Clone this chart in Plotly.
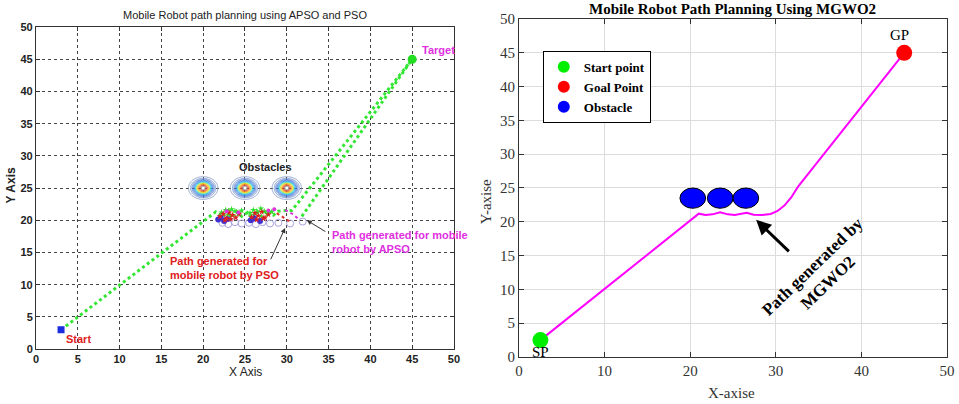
import numpy as np
import plotly.graph_objects as go

# ---------------- data: left chart (APSO / PSO) ----------------
start_L = (3, 3)
target_L = (45, 45)
obst_L_x = [20, 25, 30]
obst_L_y = [25, 25, 25]

path1_x = [3, 21.5, 22.3, 23.0, 23.4, 24.0, 24.6, 25.3, 25.8, 26.4, 27.0, 27.6, 28.4, 29.0, 29.8, 30.6, 45]
path1_y = [3, 21.3, 20.5, 21.5, 20.3, 21.4, 20.6, 21.2, 20.4, 21.5, 20.6, 21.6, 20.8, 21.4, 21.5, 21.5, 45]
path2_x = [31.8, 45]
path2_y = [20.6, 45]

pso_x = [28.8, 29.3, 29.8, 30.3, 30.6]
pso_y = [21.1, 20.7, 20.3, 19.9, 19.6]
apso_x = [29.8, 30.3, 30.8, 31.3, 28.5, 22.8, 24.2, 27.8]
apso_y = [21.6, 21.3, 20.9, 20.3, 21.7, 21.4, 21.2, 21.5]

red_x = [22.0, 22.4, 22.8, 23.1, 23.5, 23.9, 24.3, 25.8, 26.2, 26.6, 27.0, 27.4, 27.8, 22.6, 23.3, 26.4, 27.2]
red_y = [20.6, 21.0, 20.3, 21.2, 20.8, 20.4, 21.0, 20.5, 21.1, 20.7, 21.3, 20.4, 20.9, 20.0, 20.2, 20.1, 20.3]
grn_x = [22.2, 22.7, 23.0, 23.4, 23.8, 24.2, 24.6, 25.6, 26.0, 26.5, 26.9, 27.3, 27.7, 28.2]
grn_y = [21.2, 21.6, 20.9, 21.7, 21.4, 21.0, 21.5, 21.1, 21.6, 21.2, 21.8, 21.4, 21.0, 21.3]
blu_x = [21.8, 22.1, 22.5, 22.9, 25.7, 26.1, 26.8]
blu_y = [20.1, 20.4, 19.9, 20.2, 20.0, 20.3, 19.9]
circ_x = [22.3, 23.0, 23.8, 24.6, 25.5, 26.3, 27.1, 28.0, 29.0, 30.4, 31.9]
circ_y = [19.6, 19.4, 19.7, 19.5, 19.6, 19.4, 19.7, 19.5, 19.6, 19.5, 19.8]

# ---------------- data: right chart (MGWO2) ----------------
start_R = (2.5, 2.5)
goal_R = (45, 45)
obst_R_x = [20.3, 23.5, 26.5]
obst_R_y = [23.5, 23.5, 23.5]
obst_R_r = 1.5
mg_x = [2.5, 21.0, 21.8, 22.6, 23.5, 24.4, 25.2, 26.0, 26.6, 27.4, 28.4, 29.4, 30.2, 31.0, 31.8, 32.6, 45.0]
mg_y = [2.5, 21.2, 21.0, 21.1, 21.4, 21.1, 21.0, 21.2, 21.35, 21.05, 21.0, 21.15, 21.6, 22.4, 23.6, 25.2, 45.0]

ticks_L = list(range(0, 51, 5))
ticks_Rx = list(range(0, 51, 10))
ticks_Ry = list(range(0, 51, 5))

fig = go.Figure()

# ---- left: obstacle contours
gx = np.linspace(17, 33, 321)
gy = np.linspace(22.5, 27.5, 121)
GX, GY = np.meshgrid(gx, gy)
Z = np.zeros_like(GX)
for cx, cy in zip(obst_L_x, obst_L_y):
    Z = np.maximum(Z, np.exp(-((GX - cx) ** 2 + (GY - cy) ** 2) / 1.1))
fig.add_trace(go.Contour(
    x=gx, y=gy, z=Z, xaxis="x", yaxis="y", showscale=False, hoverinfo="skip",
    contours=dict(start=0.06, end=0.95, size=0.07, coloring="lines"),
    line=dict(width=1),
    colorscale=[[0, "#8aa0c8"], [0.3, "#4070e0"], [0.5, "#20d8f0"], [0.65, "#e8f020"],
                [0.8, "#ffa020"], [1, "#e02020"]],
    showlegend=False))
fig.add_trace(go.Scatter(x=obst_L_x, y=obst_L_y, mode="markers", xaxis="x", yaxis="y",
                         marker=dict(size=4, color="white", line=dict(color="#999", width=1)),
                         showlegend=False, hoverinfo="skip"))

# ---- left: paths
fig.add_trace(go.Scatter(x=path1_x, y=path1_y, mode="lines", xaxis="x", yaxis="y",
                         line=dict(color="#33e633", width=3, dash="dot"), showlegend=False))
fig.add_trace(go.Scatter(x=path2_x, y=path2_y, mode="lines", xaxis="x", yaxis="y",
                         line=dict(color="#33e633", width=3, dash="dot"), showlegend=False))
fig.add_trace(go.Scatter(x=circ_x, y=circ_y, mode="markers", xaxis="x", yaxis="y",
                         marker=dict(size=7, color="rgba(0,0,0,0)", line=dict(color="#a9a0e0", width=1)),
                         showlegend=False))
fig.add_trace(go.Scatter(x=blu_x, y=blu_y, mode="markers", xaxis="x", yaxis="y",
                         marker=dict(size=6, color="#4030d0"), showlegend=False))
fig.add_trace(go.Scatter(x=grn_x, y=grn_y, mode="markers", xaxis="x", yaxis="y",
                         marker=dict(size=5, color="#30e030", symbol="star"), showlegend=False))
fig.add_trace(go.Scatter(x=red_x, y=red_y, mode="markers", xaxis="x", yaxis="y",
                         marker=dict(size=5, color="#e02020", symbol="star"), showlegend=False))
fig.add_trace(go.Scatter(x=pso_x, y=pso_y, mode="lines", xaxis="x", yaxis="y",
                         line=dict(color="#e03030", width=2, dash="dot"), showlegend=False))
fig.add_trace(go.Scatter(x=apso_x[:4], y=apso_y[:4], mode="lines", xaxis="x", yaxis="y",
                         line=dict(color="#e030e0", width=2, dash="dot"), showlegend=False))
fig.add_trace(go.Scatter(x=apso_x[4:], y=apso_y[4:], mode="markers", xaxis="x", yaxis="y",
                         marker=dict(size=4, color="#e030e0"), showlegend=False))
fig.add_trace(go.Scatter(x=[start_L[0]], y=[start_L[1]], mode="markers", xaxis="x", yaxis="y",
                         marker=dict(size=7, color="#1a2ee0", symbol="square"), showlegend=False))
fig.add_trace(go.Scatter(x=[target_L[0]], y=[target_L[1]], mode="markers", xaxis="x", yaxis="y",
                         marker=dict(size=9, color="#22dd22"), showlegend=False))

# ---- right
fig.add_trace(go.Scatter(x=mg_x, y=mg_y, mode="lines", xaxis="x2", yaxis="y2",
                         line=dict(color="#ff00ff", width=2), showlegend=False))
fig.add_trace(go.Scatter(x=[start_R[0]], y=[start_R[1]], mode="markers", xaxis="x2", yaxis="y2",
                         name="Start point", marker=dict(size=16, color="#00ee00")))
fig.add_trace(go.Scatter(x=[goal_R[0]], y=[goal_R[1]], mode="markers", xaxis="x2", yaxis="y2",
                         name="Goal Point", marker=dict(size=16, color="#ff0000")))
fig.add_trace(go.Scatter(x=obst_R_x, y=obst_R_y, mode="markers", xaxis="x2", yaxis="y2",
                         name="Obstacle", marker=dict(size=16, color="#0000ff")))

shapes = []
for cx, cy in zip(obst_R_x, obst_R_y):
    shapes.append(dict(type="circle", xref="x2", yref="y2", x0=cx - obst_R_r, x1=cx + obst_R_r,
                       y0=cy - obst_R_r, y1=cy + obst_R_r, fillcolor="#0000ff",
                       line=dict(color="black", width=1), layer="above"))

ann = []
LF = dict(family="Liberation Sans, Arial", size=11)
MID = dict(xanchor="center", yanchor="middle", showarrow=False)
ann.append(dict(MID, x=0.2555, y=0.963, xref="paper", yref="paper", text="Mobile Robot path planning using APSO and PSO",
                font=dict(LF, color="#222")))
ann.append(dict(MID, x=0.2555, y=0.078, xref="paper", yref="paper", text="X Axis",
                font=dict(LF, size=12, color="#222")))
ann.append(dict(MID, x=0.011, y=0.54, xref="paper", yref="paper", text="Y Axis", textangle=-90,
                font=dict(LF, size=12, color="#222", weight="bold")))
ann.append(dict(x=27.5, y=28.2, xref="x", yref="y", text="Obstacles", showarrow=False,
                font=dict(LF, size=11, color="#222", weight="bold")))
ann.append(dict(x=3.4, y=1.5, xref="x", yref="y", text="Start", showarrow=False, xanchor="left",
                font=dict(LF, size=11, color="#e02020", weight="bold")))
ann.append(dict(x=45.9, y=46.4, xref="x", yref="y", text="Target", showarrow=False, xanchor="left",
                font=dict(LF, size=11, color="#e030e0", weight="bold")))
ann.append(dict(x=15.8, y=12.6, xref="x", yref="y", text="Path generated for<br>mobile robot by PSO",
                showarrow=False, xanchor="left", align="left",
                font=dict(LF, size=11, color="#e02020", weight="bold")))
ann.append(dict(x=35.2, y=16.6, xref="x", yref="y", text="Path generated for mobile<br>robot by APSO",
                showarrow=False, xanchor="left", align="left",
                font=dict(LF, size=11, color="#e030e0", weight="bold")))
ann.append(dict(x=29.8, y=18.8, ax=28.0, ay=13.7, xref="x", yref="y", axref="x", ayref="y", text="",
                showarrow=True, arrowhead=2, arrowwidth=1, arrowcolor="#333"))
ann.append(dict(x=32.4, y=20.0, ax=34.8, ay=18.1, xref="x", yref="y", axref="x", ayref="y", text="",
                showarrow=True, arrowhead=2, arrowwidth=1, arrowcolor="#333"))

TF = dict(family="Liberation Serif, Times New Roman", size=15, color="#333")
ann.append(dict(MID, x=0.764, y=0.978, xref="paper", yref="paper", text="<b>Mobile Robot Path Planning Using MGWO2</b>",
                font=dict(family="Liberation Serif", size=15, color="black")))
ann.append(dict(MID, x=0.763, y=0.028, xref="paper", yref="paper", text="X-axise", font=TF))
ann.append(dict(MID, x=0.507, y=0.5, xref="paper", yref="paper", text="Y-axise", textangle=-90, font=TF))
ann.append(dict(x=44.5, y=47.6, xref="x2", yref="y2", text="GP", showarrow=False,
                font=dict(family="Liberation Serif", size=15, color="black")))
ann.append(dict(x=2.5, y=0.8, xref="x2", yref="y2", text="SP", showarrow=False,
                font=dict(family="Liberation Serif", size=15, color="black")))
ann.append(dict(x=27.7, y=20.3, ax=31.7, ay=15.4, xref="x2", yref="y2", axref="x2", ayref="y2", text="",
                showarrow=True, arrowhead=2, arrowsize=1, arrowwidth=3, arrowcolor="black"))
ann.append(dict(x=35.2, y=12.2, xref="x2", yref="y2", text="<b>Path generated by<br>MGWO2</b>",
                showarrow=False, textangle=-44,
                font=dict(family="Liberation Serif", size=17, color="black")))

axL = dict(range=[0, 50], tickvals=ticks_L, showgrid=True, gridcolor="#444", griddash="dot", gridwidth=1,
           showline=True, linecolor="#333", linewidth=1, mirror="ticks", ticks="inside", ticklen=4,
           tickcolor="#333", zeroline=False, tickfont=dict(LF, color="#222", weight="bold"),
           fixedrange=True, automargin=False)
axRx = dict(range=[0, 50], tickvals=ticks_Rx, showgrid=True, gridcolor="#dcdcdc", gridwidth=1,
            showline=True, linecolor="#333", linewidth=1, mirror="ticks", ticks="inside", ticklen=5,
            tickcolor="#333", zeroline=False, tickfont=TF, automargin=False)
axRy = dict(axRx, tickvals=ticks_Ry)

fig.update_layout(
    width=959, height=404, margin=dict(l=0, r=0, t=0, b=0, autoexpand=False),
    paper_bgcolor="white", plot_bgcolor="white",
    xaxis=dict(axL, domain=[0.0375, 0.4734], anchor="y"),
    yaxis=dict(axL, domain=[0.136, 0.933], anchor="x"),
    xaxis2=dict(axRx, domain=[0.5412, 0.9875], anchor="y2"),
    yaxis2=dict(axRy, domain=[0.1163, 0.953], anchor="x2"),
    shapes=shapes, annotations=ann,
    showlegend=True,
    legend=dict(x=0.566, y=0.874, xanchor="left", yanchor="top", bgcolor="white",
                bordercolor="black", borderwidth=1, itemsizing="constant",
                font=dict(family="Liberation Serif", size=13, color="black", weight="bold"),
                tracegroupgap=0),
)

fig.write_html("out.html")
